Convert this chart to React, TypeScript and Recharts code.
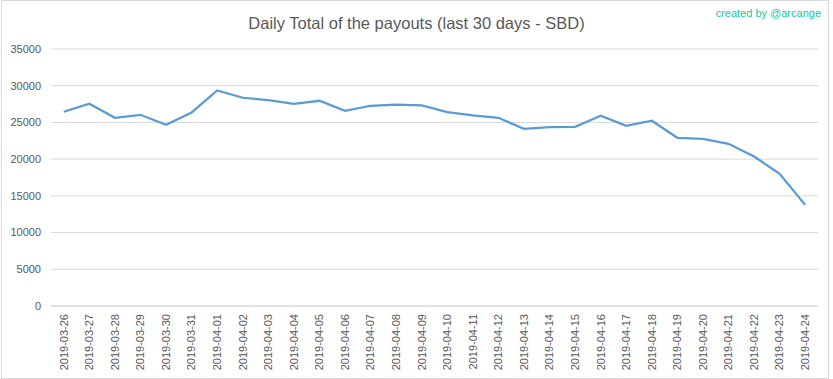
import { LineChart, Line, XAxis, YAxis, CartesianGrid } from "recharts";

const dates = [
  "2019-03-26", "2019-03-27", "2019-03-28", "2019-03-29", "2019-03-30", "2019-03-31",
  "2019-04-01", "2019-04-02", "2019-04-03", "2019-04-04", "2019-04-05", "2019-04-06",
  "2019-04-07", "2019-04-08", "2019-04-09", "2019-04-10", "2019-04-11", "2019-04-12",
  "2019-04-13", "2019-04-14", "2019-04-15", "2019-04-16", "2019-04-17", "2019-04-18",
  "2019-04-19", "2019-04-20", "2019-04-21", "2019-04-22", "2019-04-23", "2019-04-24",
];

const payouts = [
  26450, 27540, 25630, 26040, 24680, 26360,
  29360, 28360, 28040, 27540, 27950, 26590,
  27270, 27410, 27310, 26410, 25950, 25630,
  24130, 24360, 24410, 25910, 24540, 25230,
  22910, 22770, 22090, 20360, 18000, 13770,
];

const yTicks = [0, 5000, 10000, 15000, 20000, 25000, 30000, 35000];

const data = dates.map((date, i) => ({ date, value: payouts[i] }));

const font = "'Liberation Sans', Arial, sans-serif";

const DateTick = (props: any) => {
  const { x, y, payload } = props;
  return (
    <text
      transform={`translate(${x},${y}) rotate(-90)`}
      textAnchor="end"
      dy="0.35em"
      fontSize={11}
      fill="#595959"
      fontFamily={font}
    >
      {payload.value}
    </text>
  );
};

export default function App() {
  return (
    <div style={{ position: "absolute", left: 0, top: 0, width: 833, height: 379, background: "#fff" }}>
      <div
        style={{
          position: "absolute",
          left: 1,
          top: 0,
          width: 826,
          height: 377,
          border: "1px solid #d9d9d9",
        }}
      />
      <div
        style={{
          position: "absolute",
          left: 0,
          width: 833,
          top: 14,
          textAlign: "center",
          fontFamily: font,
          fontSize: 16.5,
          color: "#595959",
        }}
      >
        Daily Total of the payouts (last 30 days - SBD)
      </div>
      <div
        style={{
          position: "absolute",
          right: 12,
          top: 7,
          fontFamily: font,
          fontSize: 11,
          color: "#14c8a0",
        }}
      >
        created by @arcange
      </div>
      <LineChart
        width={833}
        height={379}
        data={data}
        margin={{ top: 49, right: 15, bottom: 0, left: 0 }}
        style={{ position: "absolute", left: 0, top: 0 }}
      >
        <CartesianGrid vertical={false} stroke="#d9d9d9" />
        <XAxis
          dataKey="date"
          height={73}
          interval={0}
          padding={{ left: 12.8, right: 12.8 }}
          tickLine={false}
          axisLine={{ stroke: "#d9d9d9" }}
          tick={<DateTick />}
        />
        <YAxis
          width={51}
          domain={[0, 35000]}
          ticks={yTicks}
          tickLine={false}
          axisLine={false}
          tickMargin={4}
          tick={{ fontSize: 11, fill: "#595959", fontFamily: font }}
        />
        <Line
          type="linear"
          dataKey="value"
          stroke="#5b9bd5"
          strokeWidth={2.25}
          dot={false}
          isAnimationActive={false}
        />
      </LineChart>
    </div>
  );
}
